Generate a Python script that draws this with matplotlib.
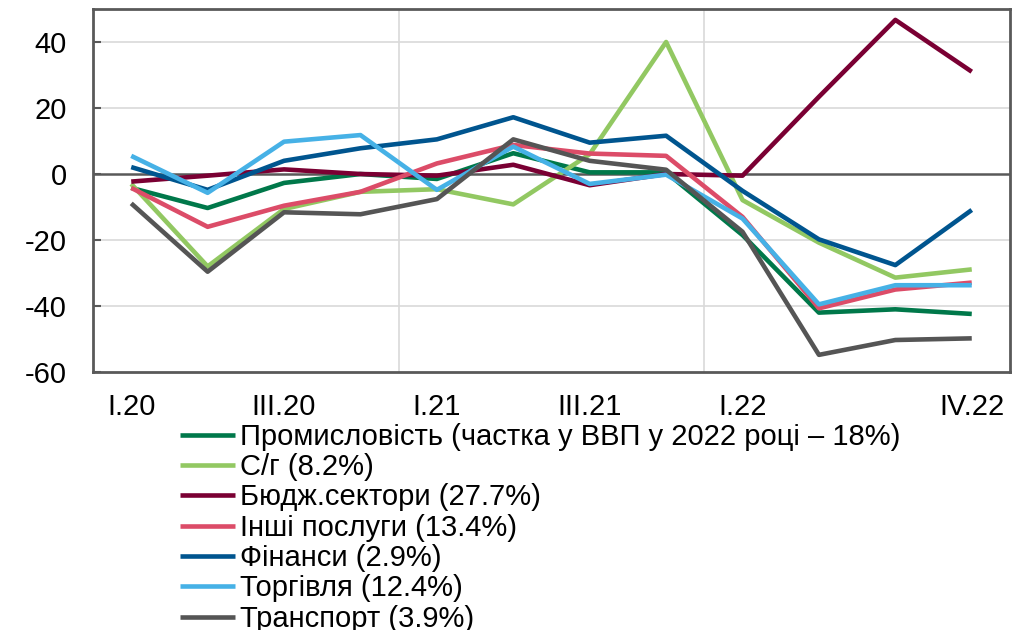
import matplotlib
matplotlib.use("Agg")
import matplotlib.pyplot as plt
import numpy as np

quarters = ["I.20", "II.20", "III.20", "IV.20", "I.21", "II.21", "III.21",
            "IV.21", "I.22", "II.22", "III.22", "IV.22"]
shown_ticks = ["I.20", "III.20", "I.21", "III.21", "I.22", "IV.22"]

industry = [-4.2, -10.3, -2.7, 0.0, -1.5, 6.3, 0.5, 0.5, -18.5, -42.0, -41.0, -42.4]
agriculture = [-3.0, -28.0, -10.6, -5.4, -4.6, -9.2, 6.0, 40.0, -7.9, -20.8, -31.4, -28.9]
budget = [-2.3, -0.5, 1.4, 0.0, -0.5, 2.8, -3.4, 0.0, -0.5, 23.4, 46.7, 31.0]
other_services = [-4.2, -16.0, -9.6, -5.4, 3.2, 8.8, 6.2, 5.5, -13.0, -40.7, -35.0, -32.9]
finance = [2.1, -4.8, 4.0, 7.8, 10.5, 17.2, 9.5, 11.6, -5.1, -19.8, -27.6, -10.9]
trade = [5.5, -5.7, 9.8, 11.8, -4.8, 8.3, -3.0, -0.2, -13.5, -39.5, -33.7, -33.7]
transport = [-8.9, -29.6, -11.6, -12.2, -7.6, 10.5, 4.0, 1.3, -17.5, -54.8, -50.3, -49.8]

series = [
    ("Промисловість (частка у ВВП у 2022 році – 18%)", industry, "#00784A"),
    ("С/г (8.2%)", agriculture, "#92C862"),
    ("Бюдж.сектори (27.7%)", budget, "#7A0033"),
    ("Інші послуги (13.4%)", other_services, "#DC4C68"),
    ("Фінанси (2.9%)", finance, "#00558F"),
    ("Торгівля (12.4%)", trade, "#46B1E6"),
    ("Транспорт (3.9%)", transport, "#555555"),
]

plt.rcParams["font.family"] = ["Liberation Sans", "DejaVu Sans"]
plt.rcParams["axes.unicode_minus"] = False

fig = plt.figure(figsize=(10.29, 6.3), dpi=100)
ax = fig.add_axes([0.0904, 0.4095, 0.8911, 0.5762])

x = np.arange(len(quarters))
for lbl, vals, col in series:
    ax.plot(x, vals, color=col, lw=3.3, label=lbl, solid_capstyle="butt", zorder=3)

ax.set_xlim(-0.5, len(quarters) - 0.5)
ax.set_ylim(-60, 50)
ax.set_yticks(np.arange(-60, 41, 20))
for yv in [-40, -20, 20, 40]:
    ax.axhline(yv, color="#D9D9D9", lw=1.2, zorder=1)
ax.axhline(0, color="#595959", lw=1.8, zorder=2)
for xv in [3.5, 7.5]:
    ax.axvline(xv, color="#D9D9D9", lw=1.2, zorder=1)

tick_pos = [quarters.index(q) for q in shown_ticks]
ax.set_xticks(tick_pos)
ax.set_xticklabels(shown_ticks)
ax.tick_params(axis="x", length=0, pad=15, labelsize=21)
ax.tick_params(axis="y", direction="in", length=6, width=1.5, color="#595959",
               pad=19, labelsize=21)
for s in ax.spines.values():
    s.set_color("#595959")
    s.set_linewidth(2)

fig.legend(loc="upper left", bbox_to_anchor=(0.175, 0.329), frameon=False,
           fontsize=21, handlelength=1.9, handletextpad=0.14, labelspacing=0.08,
           borderpad=0, borderaxespad=0)

fig.savefig("out.png", dpi=100)
